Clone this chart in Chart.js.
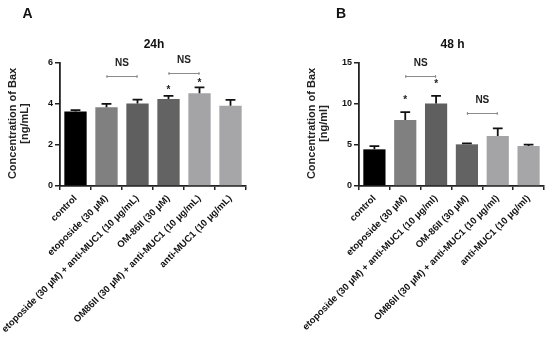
<!DOCTYPE html>
<html><head><meta charset="utf-8">
<script src="https://cdn.jsdelivr.net/npm/chart.js@4"></script>
<style>
html,body{margin:0;padding:0;background:#fff;width:550px;height:339px;overflow:hidden}
canvas{position:absolute;top:0}
</style></head><body>
<canvas id="a" width="275" height="339" style="left:0"></canvas>
<canvas id="b" width="275" height="339" style="left:275px"></canvas>
<script>
const categoriesA = ['control','etoposide (30 \u03bcM)','etoposide (30 \u03bcM) + anti-MUC1 (10 \u03bcg/mL)','OM-86II (30 \u03bcM)','OM86II (30 \u03bcM) + anti-MUC1 (10 \u03bcg/mL)','anti-MUC1 (10 \u03bcg/mL)'];
const valuesA = [3.63, 3.84, 4.03, 4.24, 4.52, 3.92];
const errorsA = [0.07, 0.17, 0.18, 0.16, 0.29, 0.28];
const yTicksA = [0, 2, 4, 6];
const nsBracketsA = [[1, 2, 5.39], [3, 4, 5.49]];
const starsA = [[3, 4.78], [4, 5.13]];

const categoriesB = ['control','etoposide (30 \u03bcM)','etoposide (30 \u03bcM) + anti-MUC1 (10 \u03bcg/ml)','OM-86II (30 \u03bcM)','OM86II (30 \u03bcM) + anti-MUC1 (10 \u03bcg/ml)','anti-MUC1 (10 \u03bcg/ml)'];
const valuesB = [4.47, 8.05, 10.05, 5.08, 6.1, 4.88];
const errorsB = [0.4, 0.95, 0.95, 0.12, 0.93, 0.16];
const yTicksB = [0, 5, 10, 15];
const nsBracketsB = [[1, 2, 13.38], [3, 4, 8.9]];
const starsB = [[1, 10.7], [2, 12.6]];

const barColors = ['#000000', '#808080', '#5f5f5f', '#636363', '#a4a4a7', '#a6a6a8'];
const FONT = '"Liberation Sans", Arial, sans-serif';

function makeChart(id, o) {
  const annot = {
    id: 'annot',
    afterDatasetsDraw(chart) {
      const ctx = chart.ctx, y = chart.scales.y, meta = chart.getDatasetMeta(0);
      const ca = chart.chartArea;
      ctx.save();
      // error bars
      ctx.strokeStyle = '#111'; ctx.lineWidth = 1.8;
      meta.data.forEach((bar, i) => {
        const top = y.getPixelForValue(o.values[i]);
        const et = y.getPixelForValue(o.values[i] + o.errors[i]);
        const hw = bar.width * 0.22;
        ctx.beginPath();
        ctx.moveTo(bar.x, top); ctx.lineTo(bar.x, et);
        ctx.moveTo(bar.x - hw, et); ctx.lineTo(bar.x + hw, et);
        ctx.stroke();
      });
      // NS brackets
      o.brackets.forEach(([i, j, v]) => {
        const x1 = meta.data[i].x, x2 = meta.data[j].x, py = Math.round(y.getPixelForValue(v)) + 0.5;
        ctx.strokeStyle = '#8a8a8a'; ctx.lineWidth = 1;
        ctx.beginPath();
        ctx.moveTo(x1, py); ctx.lineTo(x2, py);
        ctx.moveTo(x1 + 0.5, py - 1.5); ctx.lineTo(x1 + 0.5, py + 1.5);
        ctx.moveTo(x2 - 0.5, py - 1.5); ctx.lineTo(x2 - 0.5, py + 1.5);
        ctx.stroke();
        ctx.fillStyle = '#222'; ctx.font = 'bold 10px ' + FONT;
        ctx.textAlign = 'center'; ctx.textBaseline = 'middle';
        ctx.fillText('NS', (x1 + x2) / 2, py - 13);
      });
      // stars
      ctx.fillStyle = '#222'; ctx.font = 'bold 10px ' + FONT;
      ctx.textAlign = 'center'; ctx.textBaseline = 'middle';
      o.stars.forEach(([i, v]) => {
        ctx.fillText('*', meta.data[i].x, y.getPixelForValue(v) + 2);
      });
      // title
      ctx.fillStyle = '#111'; ctx.font = 'bold 12px ' + FONT;
      ctx.fillText(o.title, (ca.left + ca.right) / 2 + 1, 45);
      // panel letter
      ctx.font = 'bold 14px ' + FONT;
      ctx.fillText(o.letter, o.letterX, 14);
      // y title
      ctx.font = 'bold 11px ' + FONT; ctx.fillStyle = '#222';
      const cy = (ca.top + ca.bottom) / 2 - 1;
      ctx.translate(ca.left - 47, cy); ctx.rotate(-Math.PI / 2);
      ctx.fillText(o.yTitle[0], 0, 0);
      ctx.setTransform(1, 0, 0, 1, 0, 0);
      ctx.translate(ca.left - 35, cy); ctx.rotate(-Math.PI / 2);
      ctx.fillText(o.yTitle[1], 0, 0);
      ctx.restore();
    }
  };
  return new Chart(document.getElementById(id), {
    type: 'bar',
    data: {
      labels: o.labels,
      datasets: [{ data: o.values, backgroundColor: barColors, borderWidth: 0,
        barPercentage: 0.72, categoryPercentage: 1 }]
    },
    options: {
      responsive: false, animation: false, devicePixelRatio: 1,
      layout: { padding: { left: 0, top: 63, right: o.padRight, bottom: 0 } },
      plugins: { legend: { display: false }, tooltip: { enabled: false }, title: { display: false } },
      scales: {
        x: {
          grid: { display: true, drawOnChartArea: false, drawTicks: true, tickLength: 4, color: '#222', lineWidth: 1.5 },
          border: { display: true, color: '#222', width: 1.8 },
          ticks: { color: '#111', font: { family: FONT, size: 9.5, weight: 'bold' }, minRotation: 45, maxRotation: 45, padding: 3, autoSkip: false },
          afterFit(s) { s.height = 339 - 186; s.paddingLeft = 0; s.paddingRight = 0; }
        },
        y: {
          min: 0, max: o.yMax,
          afterBuildTicks(s) { s.ticks = o.yTicks.map(v => ({ value: v })); },
          grid: { display: true, drawOnChartArea: false, drawTicks: true, tickLength: 5, color: '#222', lineWidth: 1.5 },
          border: { display: true, color: '#222', width: 1.8 },
          ticks: { color: '#111', font: { family: FONT, size: 9, weight: 'bold' }, padding: 2 },
          afterFit(s) { s.width = o.yWidth; }
        }
      }
    },
    plugins: [annot]
  });
}

makeChart('a', { labels: categoriesA, values: valuesA, errors: errorsA, yTicks: yTicksA, yMax: 6,
  brackets: nsBracketsA, stars: starsA, title: '24h', letter: 'A', letterX: 27.5,
  yTitle: ['Concentration of Bax', '[ng/mL]'], yWidth: 60, padRight: 29 });
makeChart('b', { labels: categoriesB, values: valuesB, errors: errorsB, yTicks: yTicksB, yMax: 15,
  brackets: nsBracketsB, stars: starsB, title: '48 h', letter: 'B', letterX: 66,
  yTitle: ['Concentration of Bax', '[ng/ml]'], yWidth: 84, padRight: 6 });
</script>
</body></html>
